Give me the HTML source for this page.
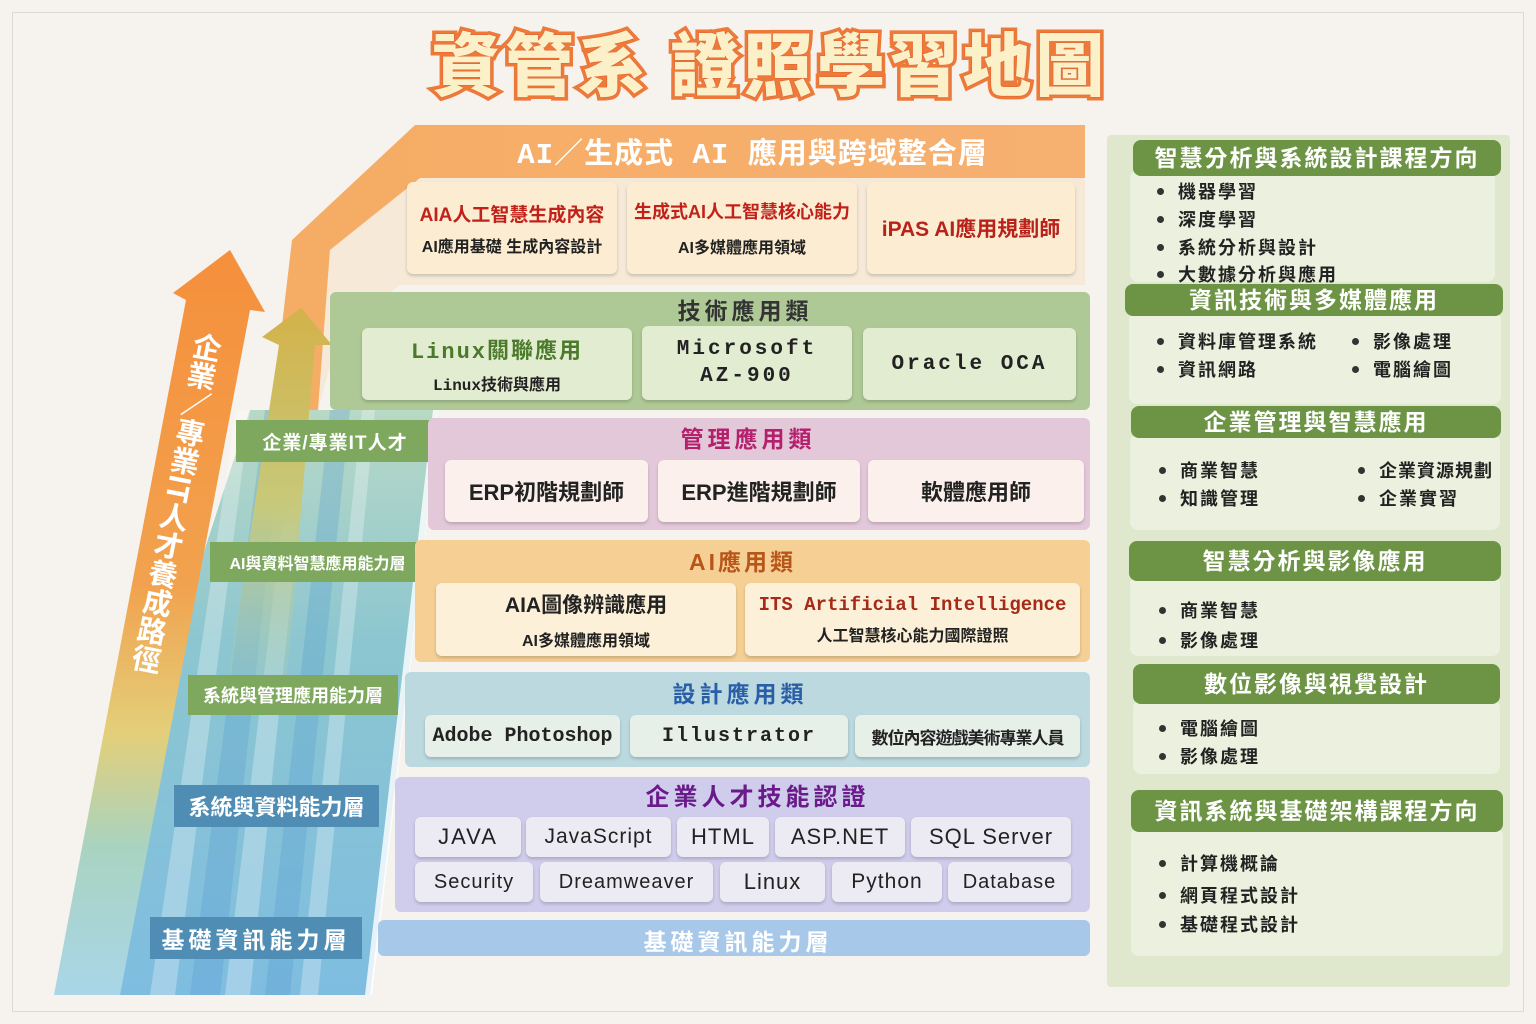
<!DOCTYPE html>
<html><head><meta charset="utf-8">
<style>
*{margin:0;padding:0;box-sizing:border-box}
body{width:1536px;height:1024px;background:#f6f2ee;position:relative;overflow:hidden;font-family:"Liberation Sans","Noto Sans CJK TC",sans-serif}
.a{position:absolute}
.frame{left:12px;top:12px;width:1512px;height:1000px;border:1px solid #ddd8d4}
.title{left:410px;top:16px;width:720px;text-align:center;font-size:69px;font-weight:900;color:#fbf0c8;letter-spacing:4px;-webkit-text-stroke:7px #ee7a3a;paint-order:stroke fill;font-family:"Noto Sans CJK TC",sans-serif;line-height:88px;text-shadow:0 0 1px #c0301a}
.band{position:absolute;border-radius:6px}
.card{position:absolute;border-radius:6px;box-shadow:0 2px 3px rgba(0,0,0,.18);display:flex;flex-direction:column;align-items:center;justify-content:center;text-align:center;font-weight:bold;color:#222;white-space:nowrap}
.mono{font-family:"Liberation Mono","Noto Sans CJK TC",monospace}
.lab{position:absolute;color:#fff;font-weight:bold;display:flex;align-items:center;justify-content:center;white-space:nowrap}
.g{background:#7ea85e}
.b{background:#4f8db5}
.rp{left:1107px;top:135px;width:403px;height:852px;background:#dfe8cc;border-radius:4px}
.hd{position:absolute;background:#6c9444;color:#fff;font-weight:bold;text-align:center;border-radius:8px;letter-spacing:2px;font-size:23px}
.pn{position:absolute;background:#ebf1de;border-radius:8px}
.li{position:absolute;font-size:18px;color:#222;letter-spacing:2px;font-weight:bold;white-space:nowrap}
.li:before{content:"";display:inline-block;width:7px;height:7px;border-radius:50%;background:#333;margin-right:14px;vertical-align:middle;position:relative;top:-2px}
.sk{font-size:22px;font-weight:normal;color:#222;letter-spacing:1px}
</style></head><body>
<div class="a frame"></div>
<div class="a title">資管系 證照學習地圖</div>

<svg class="a" style="left:0;top:0" width="1536" height="1024">
<defs>
<linearGradient id="blu" x1="0" y1="1" x2="0" y2="0"><stop offset="0" stop-color="#7fbde0"/><stop offset="0.6" stop-color="#8cc6d0"/><stop offset="1" stop-color="#b9d9c6"/></linearGradient>
<linearGradient id="org" x1="0" y1="0" x2="0" y2="1"><stop offset="0" stop-color="#f58f3c"/><stop offset="0.45" stop-color="#f2a24e"/><stop offset="0.65" stop-color="#e3cf7a"/><stop offset="0.8" stop-color="#a9d3c0"/><stop offset="1" stop-color="#a9d6e8"/></linearGradient>
<linearGradient id="olv" x1="0" y1="0" x2="0" y2="1"><stop offset="0" stop-color="#d3b24a"/><stop offset="0.5" stop-color="#c7c97a"/><stop offset="1" stop-color="#9acbcc" stop-opacity="0.3"/></linearGradient>
<linearGradient id="roof" x1="0" y1="0" x2="1" y2="0"><stop offset="0" stop-color="#f5a04c"/><stop offset="1" stop-color="#f6a45a"/></linearGradient>
</defs>
<polygon points="60,995 370,995 440,410 250,410" fill="url(#blu)"/>
<g fill="#ffffff" opacity="0.28">
<polygon points="150,995 175,995 250,410 236,410"/>
<polygon points="225,995 250,995 310,410 296,410"/>
<polygon points="300,995 318,995 375,410 362,410"/>
</g>
<g fill="#4a95cf" opacity="0.25">
<polygon points="190,995 220,995 285,410 265,410"/>
<polygon points="265,995 290,995 350,410 330,410"/>
</g>
<polygon points="365,995 372,995 440,410 433,410" fill="#ffffff" opacity="0.8"/>
<polygon points="272,410 292,240 415,125 1085,125 1085,178 420,178 330,250 318,410" fill="url(#roof)" opacity="0.85"/>
<polygon points="318,410 330,250 420,178 1085,178 1085,285 400,285 340,330" fill="#f7e2c8" opacity="0.6"/>
<polygon points="262,337 301,308 332,345 315,345 285,700 225,700 279,345" fill="url(#olv)"/>
<polygon points="173,293 230,250 265,312 250,310 120,995 54,995 186,300" fill="url(#org)"/>
</svg>

<div class="a" style="left:192px;top:333px;width:36px;height:370px;transform-origin:50% 0;transform:rotate(11deg);writing-mode:vertical-rl;color:#fff;font-size:29px;font-weight:bold;line-height:36px;font-family:'Noto Sans CJK TC',sans-serif">企業／專業IT人才養成路徑</div>

<div class="lab g" style="left:236px;top:420px;width:198px;height:42px;font-size:19px;letter-spacing:1px">企業/專業IT人才</div>
<div class="lab g" style="left:210px;top:542px;width:215px;height:40px;font-size:16px">AI與資料智慧應用能力層</div>
<div class="lab g" style="left:188px;top:675px;width:210px;height:40px;font-size:18px">系統與管理應用能力層</div>
<div class="lab b" style="left:174px;top:785px;width:205px;height:42px;font-size:22px">系統與資料能力層</div>
<div class="lab b" style="left:150px;top:917px;width:212px;height:42px;font-size:23px;letter-spacing:4px">基礎資訊能力層</div>

<div class="a" style="left:420px;top:130px;width:665px;text-align:center;color:#fff;font-size:29px;font-weight:bold;letter-spacing:1px;font-family:'Liberation Mono','Noto Sans CJK TC',monospace">AI／生成式 AI 應用與跨域整合層</div>
<div class="card" style="left:407px;top:182px;width:210px;height:92px;background:#fcecd2">
 <div style="color:#c0221a;font-size:19px">AIA人工智慧生成內容</div><div style="font-size:16px;margin-top:6px">AI應用基礎 生成內容設計</div></div>
<div class="card" style="left:627px;top:182px;width:230px;height:92px;background:#fcecd2">
 <div style="color:#c0221a;font-size:18px">生成式AI人工智慧核心能力</div><div style="font-size:16px;margin-top:10px">AI多媒體應用領域</div></div>
<div class="card" style="left:867px;top:182px;width:208px;height:92px;background:#fcecd2">
 <div style="color:#b8221a;font-size:21px">iPAS AI應用規劃師</div></div>

<div class="band" style="left:330px;top:292px;width:760px;height:118px;background:#aec995"></div>
<div class="a" style="left:330px;top:292px;width:830px;text-align:center;font-size:23px;font-weight:bold;letter-spacing:4px;color:#333">技術應用類</div>
<div class="card" style="left:362px;top:328px;width:270px;height:72px;background:#e2ecd0">
 <div class="mono" style="color:#4a7a2a;font-size:22px;letter-spacing:2px">Linux關聯應用</div><div class="mono" style="font-size:16px;margin-top:6px">Linux技術與應用</div></div>
<div class="card mono" style="left:642px;top:326px;width:210px;height:74px;background:#e2ecd0;font-size:21px;letter-spacing:3px;line-height:27px">Microsoft<br>AZ-900</div>
<div class="card mono" style="left:863px;top:328px;width:213px;height:72px;background:#e2ecd0;font-size:21px;letter-spacing:3px">Oracle OCA</div>

<div class="band" style="left:428px;top:418px;width:662px;height:112px;background:#e3c8da"></div>
<div class="a" style="left:428px;top:420px;width:640px;text-align:center;font-size:23px;font-weight:bold;letter-spacing:4px;color:#b4206c">管理應用類</div>
<div class="card" style="left:445px;top:460px;width:203px;height:62px;background:#fbf0ec;font-size:22px">ERP初階規劃師</div>
<div class="card" style="left:658px;top:460px;width:202px;height:62px;background:#fbf0ec;font-size:22px">ERP進階規劃師</div>
<div class="card" style="left:868px;top:460px;width:216px;height:62px;background:#fbf0ec;font-size:22px">軟體應用師</div>

<div class="band" style="left:415px;top:540px;width:675px;height:122px;background:#f5cf94"></div>
<div class="a" style="left:415px;top:543px;width:655px;text-align:center;font-size:23px;font-weight:bold;letter-spacing:3px;color:#b8561a">AI應用類</div>
<div class="card" style="left:436px;top:583px;width:300px;height:73px;background:#fcf1d8">
 <div style="font-size:21px">AIA圖像辨識應用</div><div style="font-size:16px;margin-top:8px">AI多媒體應用領域</div></div>
<div class="card" style="left:745px;top:583px;width:335px;height:73px;background:#fcf1d8">
 <div class="mono" style="color:#a52a18;font-size:19px;letter-spacing:0">ITS Artificial Intelligence</div><div style="font-size:16px;margin-top:6px">人工智慧核心能力國際證照</div></div>

<div class="band" style="left:405px;top:672px;width:685px;height:95px;background:#bcd9e0"></div>
<div class="a" style="left:405px;top:675px;width:670px;text-align:center;font-size:23px;font-weight:bold;letter-spacing:4px;color:#2a5fa8">設計應用類</div>
<div class="card mono" style="left:425px;top:715px;width:195px;height:42px;background:#e6efe8;font-size:20px">Adobe Photoshop</div>
<div class="card mono" style="left:630px;top:715px;width:218px;height:42px;background:#e6efe8;font-size:20px;letter-spacing:2px">Illustrator</div>
<div class="card" style="left:855px;top:715px;width:225px;height:42px;background:#e6efe8;font-size:17px;letter-spacing:-1px">數位內容遊戲美術專業人員</div>

<div class="band" style="left:395px;top:777px;width:695px;height:135px;background:#cfcdeb"></div>
<div class="a" style="left:395px;top:777px;width:725px;text-align:center;font-size:24px;font-weight:bold;letter-spacing:4px;color:#6a1a8a">企業人才技能認證</div>
<div class="card sk" style="left:415px;top:817px;width:106px;height:40px;background:#ecebf3;letter-spacing:2px">JAVA</div>
<div class="card sk" style="left:526px;top:817px;width:145px;height:40px;background:#ecebf3;font-size:21px">JavaScript</div>
<div class="card sk" style="left:677px;top:817px;width:92px;height:40px;background:#ecebf3">HTML</div>
<div class="card sk" style="left:775px;top:817px;width:130px;height:40px;background:#ecebf3">ASP.NET</div>
<div class="card sk" style="left:911px;top:817px;width:160px;height:40px;background:#ecebf3">SQL Server</div>
<div class="card sk" style="left:415px;top:862px;width:118px;height:40px;background:#ecebf3;font-size:20px">Security</div>
<div class="card sk" style="left:540px;top:862px;width:173px;height:40px;background:#ecebf3;font-size:20px">Dreamweaver</div>
<div class="card sk" style="left:720px;top:862px;width:105px;height:40px;background:#ecebf3">Linux</div>
<div class="card sk" style="left:832px;top:862px;width:110px;height:40px;background:#ecebf3;font-size:21px">Python</div>
<div class="card sk" style="left:948px;top:862px;width:123px;height:40px;background:#ecebf3;font-size:20px">Database</div>

<div class="band" style="left:378px;top:920px;width:712px;height:36px;background:#a7c8e8"></div>
<div class="a" style="left:378px;top:923px;width:720px;text-align:center;font-size:23px;font-weight:bold;letter-spacing:4px;color:#fff">基礎資訊能力層</div>

<div class="a rp"></div>
<div class="pn" style="left:1130px;top:170px;width:365px;height:112px"></div>
<div class="hd" style="left:1133px;top:140px;width:368px;height:36px;line-height:36px">智慧分析與系統設計課程方向</div>
<div class="li" style="left:1157px;top:178px">機器學習</div>
<div class="li" style="left:1157px;top:206px">深度學習</div>
<div class="li" style="left:1157px;top:234px">系統分析與設計</div>
<div class="li" style="left:1157px;top:261px">大數據分析與應用</div>

<div class="pn" style="left:1129px;top:312px;width:372px;height:92px"></div>
<div class="hd" style="left:1125px;top:284px;width:378px;height:32px;line-height:32px">資訊技術與多媒體應用</div>
<div class="li" style="left:1157px;top:328px">資料庫管理系統</div>
<div class="li" style="left:1157px;top:356px">資訊網路</div>
<div class="li" style="left:1352px;top:328px">影像處理</div>
<div class="li" style="left:1352px;top:356px">電腦繪圖</div>

<div class="pn" style="left:1130px;top:434px;width:370px;height:96px"></div>
<div class="hd" style="left:1131px;top:406px;width:370px;height:32px;line-height:32px">企業管理與智慧應用</div>
<div class="li" style="left:1159px;top:457px">商業智慧</div>
<div class="li" style="left:1159px;top:485px">知識管理</div>
<div class="li" style="left:1358px;top:457px;letter-spacing:1px">企業資源規劃</div>
<div class="li" style="left:1358px;top:485px">企業實習</div>

<div class="pn" style="left:1130px;top:576px;width:370px;height:80px"></div>
<div class="hd" style="left:1129px;top:541px;width:372px;height:40px;line-height:40px">智慧分析與影像應用</div>
<div class="li" style="left:1159px;top:597px">商業智慧</div>
<div class="li" style="left:1159px;top:627px">影像處理</div>

<div class="pn" style="left:1133px;top:700px;width:367px;height:74px"></div>
<div class="hd" style="left:1133px;top:664px;width:367px;height:40px;line-height:40px">數位影像與視覺設計</div>
<div class="li" style="left:1159px;top:715px">電腦繪圖</div>
<div class="li" style="left:1159px;top:743px">影像處理</div>

<div class="pn" style="left:1131px;top:828px;width:372px;height:128px"></div>
<div class="hd" style="left:1131px;top:790px;width:372px;height:42px;line-height:42px">資訊系統與基礎架構課程方向</div>
<div class="li" style="left:1159px;top:850px">計算機概論</div>
<div class="li" style="left:1159px;top:882px">網頁程式設計</div>
<div class="li" style="left:1159px;top:911px">基礎程式設計</div>
</body></html>
